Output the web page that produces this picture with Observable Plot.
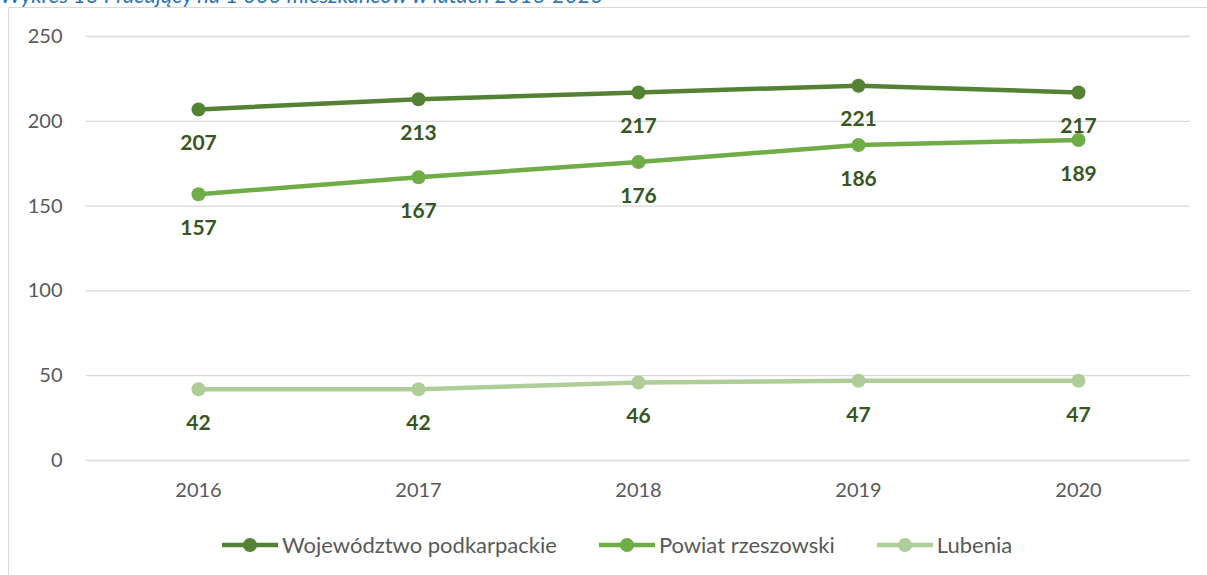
<!DOCTYPE html>
<html>
<head>
<meta charset="utf-8">
<script src="https://cdn.jsdelivr.net/npm/d3@7"></script>
<script src="https://cdn.jsdelivr.net/npm/@observablehq/plot@0.6"></script>
<style>
  html, body { margin: 0; padding: 0; background: #fff; width: 1207px; height: 575px; overflow: hidden; }
  #title { position: absolute; left: 0; top: -17px; font-family: Lato, sans-serif; font-style: italic; font-size: 22px; color: #2E74B5; white-space: nowrap; line-height: 24px; }
  #frame { position: absolute; left: 8px; top: 7px; width: 1300px; height: 700px; border: 1px solid #d9d9d9; box-sizing: border-box; }
  #chart { position: absolute; left: 0; top: 0; }
  #legend { position: absolute; left: 222px; top: 531px; display: flex; align-items: center; font-family: Lato, sans-serif; font-size: 22px; color: #595959; }
  #legend .item { display: flex; align-items: center; margin-right: 42px; }
  #legend svg { margin-right: 4px; }
</style>
</head>
<body>
<div id="title">Wykres 13 Pracujący na 1 000 mieszkańców w latach 2016-2020</div>
<div id="frame"></div>
<div id="chart"></div>
<div id="legend"></div>
<script>
const years = ["2016", "2017", "2018", "2019", "2020"];
const seriesNames = ["Województwo podkarpackie", "Powiat rzeszowski", "Lubenia"];
const wojewodztwo = [207, 213, 217, 221, 217];
const powiat = [157, 167, 176, 186, 189];
const lubenia = [42, 42, 46, 47, 47];
const yTicks = [0, 50, 100, 150, 200, 250];
const colors = ["#548235", "#70AD47", "#AECD99"];

const seriesValues = [wojewodztwo, powiat, lubenia];
const data = seriesNames.flatMap((s, i) => years.map((y, j) => ({series: s, year: y, value: seriesValues[i][j]})));

const chart = Plot.plot({
  width: 1207,
  height: 510,
  marginLeft: 86,
  marginRight: 17,
  marginTop: 36,
  marginBottom: 50,
  style: {fontFamily: "Lato, sans-serif", fontSize: "20px", color: "#595959", background: "transparent"},
  x: {type: "point", domain: years, padding: 0.5, label: null, tickSize: 0, tickPadding: 22},
  y: {domain: [0, 250], ticks: yTicks, label: null, tickSize: 0, tickPadding: 24},
  color: {domain: seriesNames, range: colors},
  marks: [
    Plot.ruleY(yTicks, {stroke: "#d9d9d9", strokeWidth: 1.3, strokeOpacity: 1}),
    Plot.line(data, {x: "year", y: "value", stroke: "series", strokeWidth: 4.5, z: "series"}),
    Plot.dot(data, {x: "year", y: "value", fill: "series", r: 7}),
    Plot.text(data, {x: "year", y: "value", text: d => String(d.value), dy: 34, fill: "#375623", fontWeight: "bold", fontSize: 21})
  ]
});
document.getElementById("chart").appendChild(chart);

const legend = document.getElementById("legend");
seriesNames.forEach((s, i) => {
  const item = document.createElement("div");
  item.className = "item";
  item.innerHTML = `<svg width="56" height="16"><line x1="0" x2="56" y1="8" y2="8" stroke="${colors[i]}" stroke-width="4.5"/><circle cx="28" cy="8" r="7" fill="${colors[i]}"/></svg><span>${s}</span>`;
  legend.appendChild(item);
});
</script>
</body>
</html>
